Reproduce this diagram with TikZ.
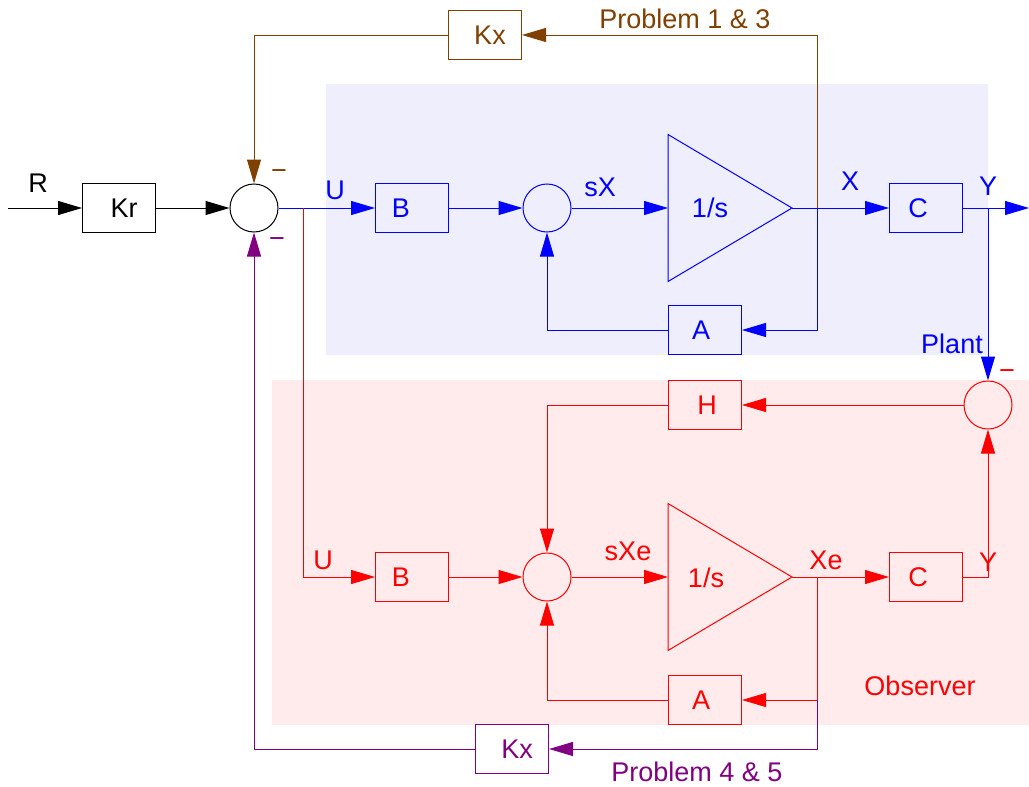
\documentclass[tikz,border=0pt]{standalone}
\usepackage{fontspec}
\setmainfont{Liberation Sans}
\usetikzlibrary{arrows.meta,backgrounds}
\definecolor{plantblue}{RGB}{0,0,255}
\definecolor{obsred}{RGB}{255,0,0}
\definecolor{fbbrown}{RGB}{128,64,0}
\definecolor{fbpurple}{RGB}{128,0,128}
\definecolor{plantbg}{RGB}{238,238,252}
\definecolor{obsbg}{RGB}{255,235,235}
\tikzset{
  gainbox/.style={rectangle, draw, line width=0.5pt, minimum width=36.5pt,
                  minimum height=24.5pt, inner sep=0pt},
  sumnode/.style={circle, draw, line width=0.5pt, minimum size=24pt, inner sep=0pt},
  sig/.style={-{Triangle[length=12pt,width=7pt]}, line width=0.5pt},
  wire/.style={line width=0.5pt},
  lbl/.style={inner sep=0pt},
  boxtext/.style n args={3}{label={[lbl, #1, xshift=#2]center:#3}},
}

\begin{document}
\begin{tikzpicture}[x=0.5pt, y=-0.5pt, font=\fontsize{13.5}{16}\selectfont]
  \useasboundingbox (0,0) rectangle (1029,787);

  % ---- input ----
  \coordinate (rin) at (8,208);
  \node[lbl] (rlbl) at (38,183) {R};
  \node[gainbox, boxtext={black}{2.5pt}{Kr}] (kr) at (119,208) {};
  \node[sumnode] (sumu) at (254,208) {};
  \draw[sig] (rin) -- (kr.west);
  \draw[sig] (kr.east) -- (sumu.west);

  % ---- plant ----
  \node[gainbox, plantblue, boxtext={plantblue}{-5.5pt}{B}] (bp) at (412,208) {};
  \node[sumnode, plantblue] (sump) at (547,208) {};
  \coordinate (intpin) at (668,208);
  \draw[wire, plantblue] (intpin) ++(0,-73.5) -- ++(124,73.5) coordinate (intpout)
    -- ++(-124,73.5) -- cycle;
  \node[lbl, plantblue] (intplbl) at (710,208) {1/s};
  \node[gainbox, plantblue, boxtext={plantblue}{-4pt}{C}] (cp) at (926,208) {};
  \node[gainbox, plantblue, boxtext={plantblue}{-2pt}{A}] (ap) at (705,330) {};
  \coordinate (brx) at (817,208);
  \coordinate (bry) at (988,208);
  \coordinate (yout) at (1029,208);
  \node[lbl, plantblue] (ulblp) at (335,190) {U};
  \node[lbl, plantblue] (sxlbl) at (600,187) {sX};
  \node[lbl, plantblue] (xlbl) at (850,181) {X};
  \node[lbl, plantblue] (ylblp) at (988,186) {Y};
  \node[lbl, plantblue] (plantlbl) at (952,344) {Plant};
  \draw[sig, plantblue] (sumu.east) -- (bp.west);
  \draw[sig, plantblue] (bp.east) -- (sump.west);
  \draw[sig, plantblue] (sump.east) -- (intpin);
  \draw[sig, plantblue] (intpout) -- (cp.west);
  \draw[sig, plantblue] (cp.east) -- (yout);
  \draw[sig, plantblue] (brx) |- (ap.east);
  \draw[sig, plantblue] (ap.west) -| (sump.south);

  % ---- observer ----
  \node[sumnode, obsred] (sumy) at (988,405) {};
  \node[gainbox, obsred, boxtext={obsred}{1pt}{H}] (ho) at (705,405) {};
  \node[gainbox, obsred, boxtext={obsred}{-5.5pt}{B}] (bo) at (412,577) {};
  \node[sumnode, obsred] (sumo) at (547,577) {};
  \coordinate (intoin) at (668,577);
  \draw[wire, obsred] (intoin) ++(0,-73.5) -- ++(124,73.5) coordinate (intoout)
    -- ++(-124,73.5) -- cycle;
  \node[lbl, obsred] (intolbl) at (706,578) {1/s};
  \node[gainbox, obsred, boxtext={obsred}{-4pt}{C}] (co) at (926,577) {};
  \node[gainbox, obsred, boxtext={obsred}{-2pt}{A}] (ao) at (705,700) {};
  \coordinate (bru) at (303,208);
  \coordinate (brxe) at (817,577);
  \node[lbl, obsred] (ulblo) at (323,560) {U};
  \node[lbl, obsred] (sxelbl) at (628,551) {sXe};
  \node[lbl, obsred] (xelbl) at (826,560) {Xe};
  \node[lbl, obsred] (ylblo) at (988,562) {Y};
  \node[lbl, obsred] (obslbl) at (920,686) {Observer};
  \node[lbl, obsred] (minusy) at (1007,375) {−};
  \draw[sig, plantblue] (bry) -- (sumy.north);
  \draw[sig, obsred] (bru) |- (bo.west);
  \draw[sig, obsred] (bo.east) -- (sumo.west);
  \draw[sig, obsred] (sumo.east) -- (intoin);
  \draw[sig, obsred] (intoout) -- (co.west);
  \draw[sig, obsred] (co.east) -| (sumy.south);
  \draw[sig, obsred] (sumy.west) -- (ho.east);
  \draw[sig, obsred] (ho.west) -| (sumo.north);
  \draw[sig, obsred] (brxe) |- (ao.east);
  \draw[sig, obsred] (ao.west) -| (sumo.south);

  % ---- state feedback ----
  \node[gainbox, fbbrown, boxtext={fbbrown}{2.5pt}{Kx}] (kxp) at (485,35) {};
  \node[lbl, fbbrown] (prob13) at (685,19) {Problem 1 \& 3};
  \node[lbl, fbbrown] (minusp) at (279,175) {−};
  \draw[sig, fbbrown] (brx) |- (kxp.east);
  \draw[sig, fbbrown] (kxp.west) -| (sumu.north);

  \node[gainbox, fbpurple, boxtext={fbpurple}{2.5pt}{Kx}] (kxo) at (512,749) {};
  \node[lbl, fbpurple] (prob45) at (697,772) {Problem 4 \& 5};
  \node[lbl, fbpurple] (minuso) at (277,243) {−};
  \draw[sig, fbpurple] (ao.east -| brxe) |- (kxo.east);
  \draw[sig, fbpurple] (kxo.west) -| (sumu.south);

  \begin{scope}[on background layer]
    \fill[plantbg] (326,84) rectangle (988,355);
    \fill[obsbg] (272,380) rectangle (1029,725);
  \end{scope}
\end{tikzpicture}
\end{document}
